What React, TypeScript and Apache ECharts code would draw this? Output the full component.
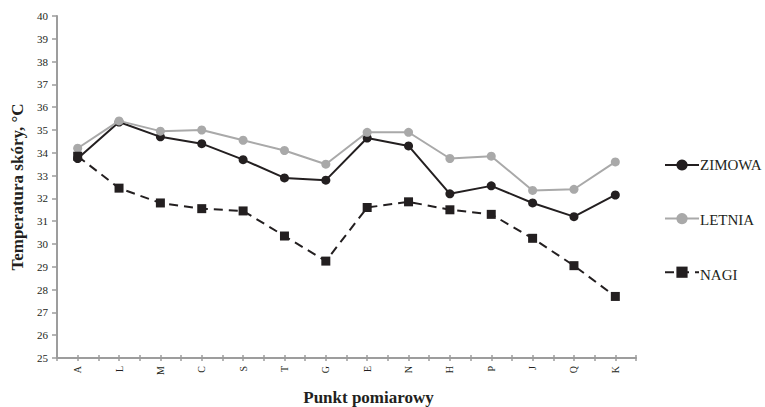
import React, { useEffect, useRef } from "react";
import * as echarts from "echarts";

const categories = ["A", "L", "M", "C", "S", "T", "G", "E", "N", "H", "P", "J", "Q", "K"];
const seriesNames = ["ZIMOWA", "LETNIA", "NAGI"];
const zimowa = [33.75, 35.35, 34.7, 34.4, 33.7, 32.9, 32.8, 34.65, 34.3, 32.2, 32.55, 31.8, 31.2, 32.15];
const letnia = [34.2, 35.4, 34.95, 35.0, 34.55, 34.1, 33.5, 34.9, 34.9, 33.75, 33.85, 32.35, 32.4, 33.6];
const nagi = [33.85, 32.45, 31.8, 31.55, 31.45, 30.35, 29.25, 31.6, 31.85, 31.5, 31.3, 30.25, 29.05, 27.7];
const yMin = 25;
const yMax = 40;

const FONT = "Liberation Serif";
const AXIS_GRAY = "#9d9d9d";
const DARK = "#231f20";
const LIGHT = "#a9a9a9";

// legend layout
const LEGEND_LEFT = 664;
const LEGEND_TOP = 158;
const LEGEND_ITEM_H = 14;
const LEGEND_GAP = 41;
const LEGEND_ICON_W = 34;

export default function App() {
  const ref = useRef<HTMLDivElement>(null);

  useEffect(() => {
    if (!ref.current) return;
    const chart = echarts.init(ref.current, undefined, { renderer: "svg" });

    const tickAxis = (inside: boolean, align: boolean) => ({
      type: "category" as const,
      data: categories,
      position: "bottom" as const,
      boundaryGap: true,
      axisLine: { show: false },
      axisLabel: { show: false },
      axisTick: {
        show: true,
        inside,
        length: 3,
        alignWithLabel: align,
        lineStyle: { color: AXIS_GRAY, width: 1.5 },
      },
      splitLine: { show: false },
    });

    // serif legend captions placed beside the legend icons
    const legendTexts = seriesNames.map((name, i) => ({
      type: "text",
      x: LEGEND_LEFT + LEGEND_ICON_W + 2,
      y: LEGEND_TOP + LEGEND_ITEM_H / 2 + i * (LEGEND_ITEM_H + LEGEND_GAP),
      style: {
        text: name,
        fontFamily: FONT,
        fontSize: 15,
        fill: DARK,
        align: "left",
        verticalAlign: "middle",
      },
    }));

    chart.setOption({
      animation: false,
      textStyle: { fontFamily: FONT },
      grid: {
        left: 57,
        right: 129,
        top: 16,
        bottom: 49,
        containLabel: false,
        outerBoundsMode: "none",
      },
      xAxis: [
        {
          type: "category",
          data: categories,
          boundaryGap: true,
          name: "Punkt pomiarowy",
          nameLocation: "middle",
          nameGap: 31,
          nameTextStyle: {
            fontFamily: FONT,
            fontSize: 17,
            fontWeight: "bold",
            color: DARK,
            padding: [0, 0, 0, 44],
          },
          axisLine: { show: true, lineStyle: { color: AXIS_GRAY, width: 2 } },
          axisTick: { show: true, length: 3, alignWithLabel: false, lineStyle: { color: AXIS_GRAY, width: 1.5 } },
          axisLabel: { rotate: 90, fontFamily: FONT, fontSize: 10, color: DARK, margin: 8 },
          splitLine: { show: false },
        },
        tickAxis(true, false),
        tickAxis(false, true),
        tickAxis(true, true),
      ],
      yAxis: {
        type: "value",
        min: yMin,
        max: yMax,
        interval: 1,
        name: "Temperatura skóry, °C",
        nameLocation: "middle",
        nameGap: 29,
        nameTextStyle: { fontFamily: FONT, fontSize: 17, fontWeight: "bold", color: DARK },
        axisLine: { show: true, lineStyle: { color: AXIS_GRAY, width: 2 } },
        axisTick: { show: true, length: 5, lineStyle: { color: AXIS_GRAY, width: 1.5 } },
        axisLabel: { fontFamily: FONT, fontSize: 11, color: DARK, margin: 9 },
        splitLine: { show: false },
      },
      legend: {
        orient: "vertical",
        left: LEGEND_LEFT,
        top: LEGEND_TOP,
        padding: 0,
        itemGap: LEGEND_GAP,
        itemWidth: LEGEND_ICON_W,
        itemHeight: LEGEND_ITEM_H,
        formatter: () => "",
        data: seriesNames,
      },
      graphic: legendTexts,
      series: [
        {
          name: seriesNames[0],
          type: "line",
          data: zimowa,
          symbol: "circle",
          symbolSize: 9,
          lineStyle: { color: DARK, width: 2 },
          itemStyle: { color: DARK },
          z: 2,
        },
        {
          name: seriesNames[1],
          type: "line",
          data: letnia,
          symbol: "circle",
          symbolSize: 9,
          lineStyle: { color: LIGHT, width: 2 },
          itemStyle: { color: LIGHT },
          z: 3,
        },
        {
          name: seriesNames[2],
          type: "line",
          data: nagi,
          symbol: "rect",
          symbolSize: 9,
          lineStyle: { color: DARK, width: 2, type: [9, 6] },
          itemStyle: { color: DARK },
          z: 4,
        },
      ],
    });

    return () => chart.dispose();
  }, []);

  return (
    <div
      ref={ref}
      style={{ position: "absolute", left: 0, top: 0, width: 765, height: 407, background: "#fff" }}
    />
  );
}
